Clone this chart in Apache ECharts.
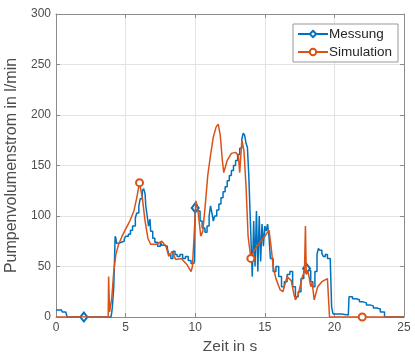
<!DOCTYPE html>
<html>
<head>
<meta charset="utf-8">
<script src="https://cdn.jsdelivr.net/npm/echarts@6/dist/echarts.min.js"></script>
<style>
  html, body { margin: 0; padding: 0; background: #fff; }
  #chart { width: 415px; height: 360px; }
</style>
</head>
<body>
<div id="chart"></div>
<script>
// Gemessener Pumpenvolumenstrom (Zeit in s, Wert in l/min)
const messungZeit = [0, 0.4, 0.45, 0.7, 0.8, 2, 3.95, 4.0, 4.05, 4.15, 4.2, 4.25, 4.3, 4.35, 4.5, 4.7, 4.9, 5.0, 5.2, 5.35, 5.5, 5.7, 5.8, 5.95, 6.05, 6.2, 6.3, 6.4, 6.45, 6.55, 6.65, 6.75, 6.8, 6.95, 7.1, 7.3, 7.5, 7.6, 7.8, 8.0, 8.1, 8.25, 8.4, 8.55, 8.7, 8.9, 9.1, 9.3, 9.5, 9.7, 9.9, 9.95, 10.0, 10.1, 10.2, 10.35, 10.5, 10.7, 10.85, 11.0, 11.1, 11.2, 11.3, 11.4, 11.55, 11.7, 11.85, 12.0, 12.15, 12.3, 12.45, 12.6, 12.75, 12.9, 13.05, 13.2, 13.35, 13.45, 13.55, 13.65, 13.75, 13.85, 13.95, 14.05, 14.1, 14.2, 14.3, 14.4, 14.5, 14.6, 14.7, 14.8, 14.9, 15.0, 15.1, 15.2, 15.3, 15.4, 15.6, 15.8, 16.0, 16.2, 16.4, 16.6, 16.8, 17.0, 17.2, 17.4, 17.6, 17.8, 18.0, 18.15, 18.3, 18.45, 18.6, 18.75, 18.85, 18.95, 19.1, 19.2, 19.35, 19.5, 19.7, 19.8, 19.9, 20.5, 21.0, 21.05, 21.3, 21.55, 21.8, 22.05, 22.3, 22.55, 22.8, 23.05, 23.3, 23.6, 25];
const messungWert = [7, 7, 5, 4, 0, 0, 0, 4, 10, 30, 55, 80, 78, 73, 74, 75, 77, 80, 82, 86, 90, 98, 103, 110, 117, 125, 127, 122, 110, 100, 90, 97, 85, 78, 74, 70, 74, 71, 70, 68, 62, 58, 65, 62, 60, 62, 58, 60, 56, 53, 52, 55, 108, 112, 105, 95, 88, 84, 90, 100, 110, 103, 95, 100, 106, 112, 118, 124, 129, 135, 140, 145, 150, 155, 161, 167, 176, 182, 180, 172, 168, 140, 100, 60, 40, 95, 50, 105, 45, 100, 55, 92, 70, 90, 85, 92, 80, 58, 45, 50, 40, 30, 35, 42, 45, 30, 20, 25, 38, 45, 48, 46, 35, 30, 45, 62, 68, 66, 63, 60, 62, 58, 57, 10, 3, 2, 2, 20, 18, 17, 15, 14, 12, 11, 9, 8, 5, 0, 0];
const messungMarker = [2, 10, 18];

// Simulierter Pumpenvolumenstrom
const simZeit = [0, 3.75, 3.78, 3.85, 4.0, 4.15, 4.3, 4.5, 4.75, 5.0, 5.3, 5.6, 5.8, 6.0, 6.2, 6.4, 6.6, 6.8, 7.2, 7.6, 7.9, 8.1, 8.35, 8.6, 9.0, 9.4, 9.7, 9.8, 9.9, 10.05, 10.2, 10.4, 10.55, 10.75, 10.9, 11.1, 11.3, 11.5, 11.65, 11.8, 11.95, 12.05, 12.3, 12.6, 12.9, 13.1, 13.2, 13.35, 13.5, 13.65, 13.8, 14.0, 14.2, 14.6, 15.0, 15.3, 15.45, 15.6, 15.8, 16.1, 16.3, 16.6, 16.9, 17.1, 17.2, 17.4, 17.7, 17.85, 17.92, 17.98, 18.1, 18.3, 18.4, 18.55, 18.8, 19.1, 19.5, 19.62, 19.65, 22.0, 25];
const simWert = [0, 0, 40, 5, 18, 45, 62, 72, 80, 87, 95, 105, 118, 133, 118, 95, 78, 72, 72, 75, 70, 60, 65, 57, 58, 52, 45, 50, 75, 115, 105, 80, 85, 115, 140, 160, 178, 188, 191, 180, 155, 143, 155, 162, 163, 160, 143, 175, 165, 130, 80, 58, 65, 73, 80, 86, 70, 50, 38, 27, 25, 40, 36, 22, 17, 22, 40, 45, 90, 42, 46, 30, 34, 17, 30, 35, 38, 38, 0, 0, 0];
const simMarker = [6, 14, 22];

const xTicks = [0, 5, 10, 15, 20, 25];
const yTicks = [0, 50, 100, 150, 200, 250, 300];

const serienNamen = ['Messung', 'Simulation'];
const farben = ['#0072BD', '#D95319'];

// Markierungen nur an ausgewählten Zeitpunkten
function punkte(zeit, wert, marker) {
  return zeit.map((t, i) => {
    const item = { value: [t, wert[i]] };
    if (!marker.includes(t)) item.symbol = 'none';
    return item;
  });
}

const textFarbe = '#4d4d4d';
const achsenFarbe = '#8c8c8c';
const schrift = 'Liberation Sans, Arial, sans-serif';

const chart = echarts.init(document.getElementById('chart'), null, { renderer: 'canvas' });

const achseX = {
  type: 'value',
  min: xTicks[0],
  max: xTicks[xTicks.length - 1],
  interval: xTicks[1] - xTicks[0],
  axisLine: { show: true, onZero: false, lineStyle: { color: achsenFarbe, width: 1 } },
  axisTick: { show: true, inside: true, length: 4, lineStyle: { color: achsenFarbe } },
  splitLine: { show: true, lineStyle: { color: '#e3e3e3', width: 1 } }
};

const achseY = {
  type: 'value',
  min: yTicks[0],
  max: yTicks[yTicks.length - 1],
  interval: yTicks[1] - yTicks[0],
  axisLine: { show: true, onZero: false, lineStyle: { color: achsenFarbe, width: 1 } },
  axisTick: { show: true, inside: true, length: 4, lineStyle: { color: achsenFarbe } },
  splitLine: { show: true, lineStyle: { color: '#e3e3e3', width: 1 } }
};

chart.setOption({
  animation: false,
  backgroundColor: '#fff',
  textStyle: { fontFamily: schrift },
  grid: { left: 56, right: 11, top: 14, bottom: 43, containLabel: false, outerBoundsMode: 'none' },
  legend: {
    data: serienNamen,
    orient: 'vertical',
    left: 293,
    top: 24,
    itemWidth: 30,
    itemHeight: 8,
    itemGap: 4,
    padding: [3, 6, 3, 4],
    backgroundColor: '#fff',
    borderColor: '#999',
    borderWidth: 1,
    borderRadius: 0,
    textStyle: { fontSize: 13.5, color: '#262626', fontFamily: schrift, padding: [0, 0, 0, -4] }
  },
  xAxis: [
    Object.assign({}, achseX, {
      position: 'bottom',
      name: 'Zeit in s',
      nameLocation: 'middle',
      nameGap: 20,
      nameTextStyle: { fontSize: 15.5, color: textFarbe },
      axisLabel: { fontSize: 12, color: textFarbe, margin: 5 }
    }),
    Object.assign({}, achseX, {
      position: 'top',
      axisLabel: { show: false },
      splitLine: { show: false }
    })
  ],
  yAxis: [
    Object.assign({}, achseY, {
      position: 'left',
      name: 'Pumpenvolumenstrom in l/min',
      nameLocation: 'middle',
      nameGap: 31,
      nameTextStyle: { fontSize: 16, color: textFarbe },
      axisLabel: { fontSize: 12, color: textFarbe, margin: 5 }
    }),
    Object.assign({}, achseY, {
      position: 'right',
      axisLabel: { show: false },
      splitLine: { show: false }
    })
  ],
  series: [
    {
      name: serienNamen[0],
      type: 'line',
      step: 'end',
      data: punkte(messungZeit, messungWert, messungMarker),
      symbol: 'emptyDiamond',
      symbolSize: [7, 9],
      showAllSymbol: true,
      color: farben[0],
      lineStyle: { color: farben[0], width: 1.5 },
      itemStyle: { color: farben[0], borderColor: farben[0], borderWidth: 1.2 },
      z: 3
    },
    {
      name: serienNamen[1],
      type: 'line',
      data: punkte(simZeit, simWert, simMarker),
      symbol: 'emptyCircle',
      symbolSize: 7,
      showAllSymbol: true,
      color: farben[1],
      lineStyle: { color: farben[1], width: 1.5 },
      itemStyle: { color: farben[1], borderColor: farben[1], borderWidth: 1.2 },
      z: 4
    }
  ]
});
</script>
</body>
</html>
